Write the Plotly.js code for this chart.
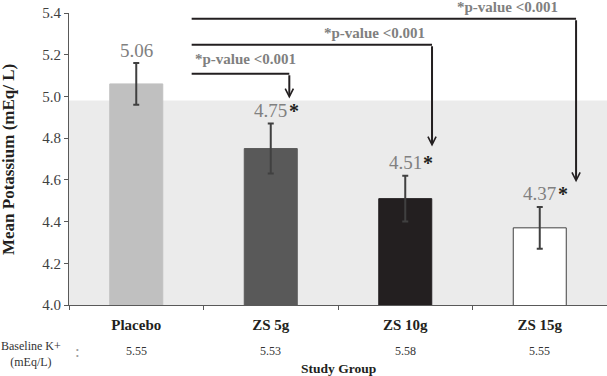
<!DOCTYPE html>
<html>
<head>
<meta charset="utf-8">
<script src="https://cdn.plot.ly/plotly-3.0.1.min.js"></script>
<style>html,body{margin:0;padding:0;background:#fff;}#chart{width:607px;height:376px;}</style>
</head>
<body>
<div id="chart"></div>
<script>
// ---- data ----
const groups = ["Placebo", "ZS 5g", "ZS 10g", "ZS 15g"];
const meanK = [5.06, 4.75, 4.51, 4.37];
const errK = [0.10, 0.12, 0.11, 0.10];
const baselineK = ["5.55", "5.53", "5.58", "5.55"];
const significant = [false, true, true, true];
const pLabel = "*p-value <0.001";
const yTitle = "Mean Potassium (mEq/ L)";
const xTitle = "Study Group";
const baselineTitle = "Baseline K+<br>(mEq/L)";
const normalUpper = 4.98;

// ---- styles ----
const barColors = ["#c0c0c0", "#595959", "#231f20", "#ffffff"];
const barLines = ["#c0c0c0", "#595959", "#231f20", "#404040"];
const serif = "'Liberation Serif', 'Times New Roman', serif";

// comparison brackets
const brackets = [
  {g: 1, yLine: 5.109, yTip: 4.99, dx: 0.138, lx: -0.191, shift: 15},
  {g: 2, yLine: 5.248, yTip: 4.76, dx: 0.199, lx: -0.225, shift: 12},
  {g: 3, yLine: 5.373, yTip: 4.588, dx: 0.27, lx: -0.243, shift: 12}
];
const bracketStart = 0.412;

const trace = {
  type: "bar",
  x: groups,
  y: meanK,
  width: groups.map(() => 0.394),
  marker: {color: barColors, line: {color: barLines, width: 1}},
  error_y: {type: "data", array: errK, visible: true, color: "#404040", thickness: 2, width: 3},
  hoverinfo: "skip",
  cliponaxis: false
};

const annotations = [];
const shapes = [
  {type: "rect", xref: "paper", x0: 0, x1: 1, yref: "y", y0: 4.0, y1: normalUpper,
   fillcolor: "#ebebeb", line: {width: 0}, layer: "below"}
];

groups.forEach((g, i) => {
  annotations.push({
    x: i, y: meanK[i] + errK[i], xref: "x", yref: "y",
    text: meanK[i].toFixed(2), showarrow: false, yshift: 13, xanchor: "center", yanchor: "middle",
    font: {family: serif, size: 19, color: "#808080"}
  });
  if (significant[i]) {
    annotations.push({
      x: i, y: meanK[i] + errK[i], xref: "x", yref: "y",
      text: "<b>*</b>", showarrow: false, yshift: 13, xshift: 16, xanchor: "left", yanchor: "middle",
      font: {family: serif, size: 20, color: "#231f20"}
    });
  }
  annotations.push({
    x: i, y: -0.159, xref: "x", yref: "paper",
    text: baselineK[i], showarrow: false, xanchor: "center", yanchor: "middle",
    font: {family: serif, size: 12, color: "#333333"}
  });
});

brackets.forEach(b => {
  const xv = b.g + b.dx;
  shapes.push({type: "line", xref: "x", yref: "y", x0: bracketStart, x1: xv, y0: b.yLine, y1: b.yLine,
               line: {color: "#231f20", width: 2}});
  annotations.push({
    x: xv, y: b.yTip, xref: "x", yref: "y", ax: xv, ay: b.yLine, axref: "x", ayref: "y",
    text: "", showarrow: true, arrowhead: 5, arrowsize: 0.8, arrowwidth: 2, arrowcolor: "#231f20"
  });
  annotations.push({
    x: b.g + b.lx, y: b.yLine, xref: "x", yref: "y", yshift: b.shift, text: "<b>" + pLabel + "</b>",
    showarrow: false, xanchor: "center", yanchor: "middle",
    font: {family: serif, size: 15, color: "#808080"}
  });
});

annotations.push({
  x: -0.0706, y: -0.169, xref: "paper", yref: "paper", text: baselineTitle,
  showarrow: false, align: "center", xanchor: "center", yanchor: "middle",
  font: {family: serif, size: 12, color: "#333333"}
});
annotations.push({
  x: 0.0149, y: -0.16, xref: "paper", yref: "paper", text: ":",
  showarrow: false, xanchor: "center", yanchor: "middle",
  font: {family: serif, size: 17, color: "#9a9a9a"}
});
annotations.push({
  x: 0.5, y: -0.217, xref: "paper", yref: "paper", text: "<b>" + xTitle + "</b>",
  showarrow: false, xanchor: "center", yanchor: "middle",
  font: {family: serif, size: 13.5, color: "#231f20"}
});
annotations.push({
  x: -0.1134, y: 0.5, xref: "paper", yref: "paper", text: "<b>" + yTitle + "</b>",
  showarrow: false, textangle: -90, xanchor: "center", yanchor: "middle",
  font: {family: serif, size: 17, color: "#231f20"}
});

const layout = {
  width: 607, height: 376,
  margin: {l: 69, r: 0, t: 13, b: 70.5, pad: 0},
  paper_bgcolor: "#ffffff", plot_bgcolor: "rgba(0,0,0,0)",
  showlegend: false,
  xaxis: {
    type: "category", showgrid: false, zeroline: false,
    showline: true, linecolor: "#595959", linewidth: 1,
    ticks: "outside", tickson: "boundaries", ticklen: 4, tickcolor: "#595959",
    ticklabelstandoff: 6,
    tickfont: {family: serif, size: 15, color: "#231f20"},
    tickprefix: "<b>", ticksuffix: "</b>",
    fixedrange: true
  },
  yaxis: {
    range: [4.0, 5.4], tickvals: [4.0, 4.2, 4.4, 4.6, 4.8, 5.0, 5.2, 5.4], tickformat: ".1f",
    showgrid: false, zeroline: false,
    showline: true, linecolor: "#595959", linewidth: 1,
    ticks: "outside", ticklen: 4, tickcolor: "#595959",
    ticksuffix: "\u00a0",
    tickfont: {family: serif, size: 15, color: "#404040"},
    fixedrange: true
  },
  shapes: shapes,
  annotations: annotations
};

Plotly.newPlot("chart", [trace], layout, {displayModeBar: false, staticPlot: true});
</script>
</body>
</html>
